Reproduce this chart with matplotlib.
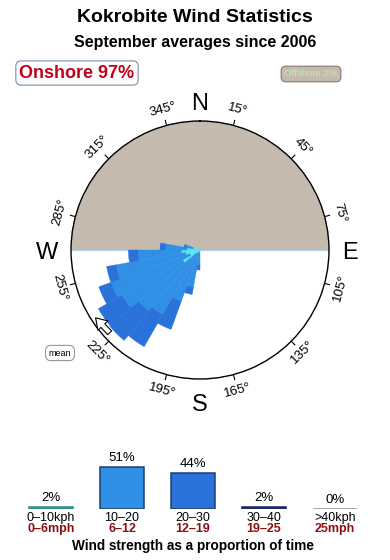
import numpy as np
import matplotlib
matplotlib.use('Agg')
import matplotlib.pyplot as plt

plt.rcParams['font.family'] = ['Liberation Sans', 'DejaVu Sans']

# wind rose, 10 degree sectors (direction the wind comes from)
# lengths are in % of the outer ring radius
sector_dirs = [185, 195, 205, 215, 225, 235, 245, 255, 265, 275, 285]
rose_0_10 = [1.5, 1.5, 2.5, 2.5, 4, 15.5, 8.5, 11.5, 14.5, 10, 5.5]
rose_10_20 = [10, 28, 40, 55.5, 58, 54.5, 65, 54.5, 33.5, 17, 5.5]
rose_20_30 = [4, 5.5, 23, 28.5, 29.5, 21, 10, 7.5, 7.5, 4, 1.5]
mean_dir = 232

tick_dirs = [15, 45, 75, 105, 135, 165, 195, 225, 255, 285, 315, 345]
compass = ['N', 'E', 'S', 'W']

# wind strength histogram
speed_kph = ['0\u201310kph', '10\u201320', '20\u201330', '30\u201340', '>40kph']
speed_mph = ['0\u20136mph', '6\u201312', '12\u201319', '19\u201325', '25mph']
speed_pct = [2, 51, 44, 2, 0]

onshore_pct = 97
offshore_pct = 2

rose_colors = ['#58e4f0', '#3090e6', '#2a72da']
bar_colors = ['#3fb0ac', '#3090e6', '#2a72da', '#1f3a78', '#a0a0a0']
bar_edges = ['#2d8a88', '#1c3f70', '#1c3f70', '#14285a', '#909090']
beige = '#c5baae'
dark_red = '#8b1010'

fig = plt.figure(figsize=(3.9, 5.6), dpi=100)
W, H = 390.0, 560.0

fig.text(0.5, 1 - 18 / H, 'Kokrobite Wind Statistics', ha='center', va='center',
         fontsize=14, weight='bold')
fig.text(0.5, 1 - 43 / H, 'September averages since 2006', ha='center', va='center',
         fontsize=11.5, weight='bold')

fig.text(77 / W, 1 - 73 / H, 'Onshore %d%%' % onshore_pct, ha='center', va='center',
         fontsize=13, weight='bold', color='#c4001a',
         bbox=dict(boxstyle='round,pad=0.2,rounding_size=0.3', fc='white',
                   ec='#7a90aa', lw=0.8))
fig.text(311 / W, 1 - 74 / H, 'Offshore %d%%' % offshore_pct, ha='center', va='center',
         fontsize=6.8, color='#b8f4a8',
         bbox=dict(boxstyle='round,pad=0.35,rounding_size=0.5', fc=beige,
                   ec='#857b72', lw=0.8))
fig.text(60 / W, 1 - 353 / H, 'mean', ha='center', va='center', fontsize=6.5,
         bbox=dict(boxstyle='round,pad=0.35,rounding_size=0.6', fc='white',
                   ec='#888888', lw=0.7))

# ---- rose ----
cx, cy, rad = 200.0, 250.0, 129.0
ax = fig.add_axes([(cx - rad) / W, (H - cy - rad) / H, 2 * rad / W, 2 * rad / H],
                  projection='polar')
ax.set_theta_zero_location('N')
ax.set_theta_direction(-1)
ax.set_ylim(0, 100)
ax.set_xticks([])
ax.set_yticks([])
ax.grid(False)
ax.spines['polar'].set_linewidth(1.0)

# offshore half (N side)
ax.bar(0, 100, width=np.pi, color=beige, linewidth=0, zorder=1)
for t in (np.pi / 2, 3 * np.pi / 2):
    ax.plot([t, t], [0, 100], color='#b4d2ee', lw=0.9, zorder=2)

theta = np.radians(sector_dirs)
bottom = np.zeros(len(sector_dirs))
for vals, col in zip([rose_0_10, rose_10_20, rose_20_30], rose_colors):
    ax.bar(theta, vals, width=np.radians(10), bottom=bottom, color=col,
           edgecolor=col, linewidth=0.3, zorder=3)
    bottom = bottom + np.array(vals)

for d in tick_dirs:
    t = np.radians(d)
    ax.plot([t, t], [100, 104], color='k', lw=0.8, clip_on=False, zorder=4)
    rot = ((90 - d) % 180) - 90
    ax.text(t, 112.5, '%d\u00b0' % d, rotation=rot, rotation_mode='anchor',
            ha='center', va='center', fontsize=9.5)

for lab, d, r in zip(compass, [0, 90, 180, 270], [115.5, 116, 117.5, 118.5]):
    ax.annotate(lab, xy=(np.radians(d), r), xytext=(0, -2.2), textcoords='offset points',
                ha='center', va='center', fontsize=17, annotation_clip=False)

ax.annotate('', xy=(np.radians(mean_dir + 5), 96.5), xytext=(np.radians(mean_dir - 4.5), 95),
            arrowprops=dict(arrowstyle='simple,head_length=0.7,head_width=0.9,tail_width=0.35',
                            fc='white', ec='black', lw=0.8, shrinkA=0, shrinkB=0,
                            mutation_scale=11),
            zorder=5, annotation_clip=False)

# ---- strength bars ----
bx = fig.add_axes([15.5 / W, (H - 508.5) / H, 355 / W, 49 / H])
bx.set_xlim(-0.5, 4.5)
bx.set_ylim(0, 60)
bx.axis('off')
x = np.arange(len(speed_pct))
bx.bar(x, speed_pct, width=0.63, color=bar_colors, edgecolor=bar_edges, linewidth=1.1)
for i, v in enumerate(speed_pct):
    bx.text(i, v + 10.5, '%d%%' % v, ha='center', va='center', fontsize=9.5,
            clip_on=False)
    bx.text(i, -12, speed_kph[i], ha='center', va='center', fontsize=9, clip_on=False)
    bx.text(i, -25.5, speed_mph[i], ha='center', va='center', fontsize=9,
            weight='bold', color=dark_red, clip_on=False)

fig.text(0.495, 1 - 546 / H, 'Wind strength as a proportion of time', ha='center',
         va='center', fontsize=9.8, weight='bold')

fig.savefig('out.png', dpi=100)
